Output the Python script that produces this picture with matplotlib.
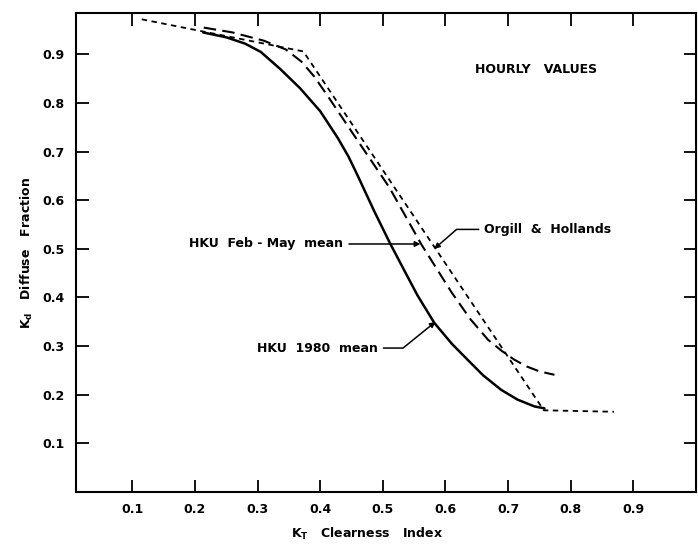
import matplotlib
matplotlib.use("Agg")
import matplotlib.pyplot as plt

# HKU 1980 mean (solid)
kt_1980 = [0.213, 0.25, 0.28, 0.305, 0.336, 0.368, 0.40, 0.428, 0.445, 0.46,
           0.486, 0.512, 0.532, 0.555, 0.582, 0.61, 0.636, 0.66, 0.689,
           0.715, 0.742, 0.758]
kd_1980 = [0.945, 0.935, 0.922, 0.905, 0.870, 0.830, 0.783, 0.728, 0.690,
           0.650, 0.578, 0.510, 0.461, 0.405, 0.348, 0.305, 0.271, 0.240,
           0.210, 0.190, 0.176, 0.172]

# HKU Feb-May mean (long dashes)
kt_febmay = [0.214, 0.26, 0.31, 0.345, 0.37, 0.39, 0.41, 0.46, 0.51, 0.562,
             0.61, 0.64, 0.668, 0.69, 0.71, 0.73, 0.75, 0.774]
kd_febmay = [0.955, 0.945, 0.928, 0.910, 0.885, 0.855, 0.818, 0.722, 0.627,
             0.508, 0.410, 0.355, 0.313, 0.290, 0.272, 0.258, 0.248, 0.241]

# Orgill & Hollands (short dashes)
kt_oh = [0.115, 0.373, 0.757, 0.869]
kd_oh = [0.972, 0.906, 0.168, 0.165]

x_ticks = [0.1, 0.2, 0.3, 0.4, 0.5, 0.6, 0.7, 0.8, 0.9]
x_ticklabels = ["0.1", "0.2", "0.3", "0.4", "0.5", "0.6", "0.7", "0.8", "0.9"]
y_ticks = [0.1, 0.2, 0.3, 0.4, 0.5, 0.6, 0.7, 0.8, 0.9]
y_ticklabels = ["0.1", "0.2", "0.3", "0.4", "0.5", "0.6", "0.7", "0.8", "0.9"]

fig = plt.figure(figsize=(6.98, 5.45), dpi=100)
ax = fig.add_axes([76 / 698, 53 / 545, 620 / 698, 479 / 545])

ax.plot(kt_1980, kd_1980, color="black", lw=1.8, solid_capstyle="round",
        solid_joinstyle="round")
ax.plot(kt_febmay, kd_febmay, color="black", lw=1.5, linestyle=(0, (6, 3)))
ax.plot(kt_oh, kd_oh, color="black", lw=1.3, linestyle=(0, (3, 2.5)))

ax.set_xlim(0.01, 1.0)
ax.set_ylim(0.0, 0.985)

for s in ax.spines.values():
    s.set_linewidth(1.5)

ax.set_xticks(x_ticks)
ax.set_xticklabels(x_ticklabels)
ax.set_yticks(y_ticks)
ax.set_yticklabels(y_ticklabels)
ax.tick_params(direction="in", length=9, width=1.3, top=True, right=True,
               labelsize=9, pad=8)
for lbl in ax.get_xticklabels() + ax.get_yticklabels():
    lbl.set_fontweight("bold")

ax.set_xlabel(r"$\mathbf{K_T}$   Clearness   Index", fontsize=9, fontweight="bold")
ax.set_ylabel(r"$\mathbf{K_d}$   Diffuse   Fraction", fontsize=9, fontweight="bold")
ax.xaxis.set_label_coords(0.47, -0.07)
ax.yaxis.set_label_coords(-0.066, 0.5)

txt = dict(fontsize=9, fontweight="bold", va="center")
ax.text(0.745, 0.868, "HOURLY   VALUES", ha="center", **txt)

arrow = dict(arrowstyle="-|>", color="black", lw=1.1, mutation_scale=8,
             shrinkA=2, shrinkB=0)

ax.annotate("HKU  Feb - May  mean", xy=(0.560, 0.510), xytext=(0.437, 0.510),
            ha="right", arrowprops=arrow, **txt)

ax.annotate("Orgill  &  Hollands", xy=(0.582, 0.500), xytext=(0.662, 0.540),
            ha="left",
            arrowprops=dict(arrow, connectionstyle="angle,angleA=0,angleB=41,rad=0"),
            **txt)

ax.annotate("HKU  1980  mean", xy=(0.584, 0.350), xytext=(0.492, 0.296),
            ha="right",
            arrowprops=dict(arrow, connectionstyle="angle,angleA=0,angleB=39,rad=0"),
            **txt)

fig.savefig("out.png", dpi=100)
